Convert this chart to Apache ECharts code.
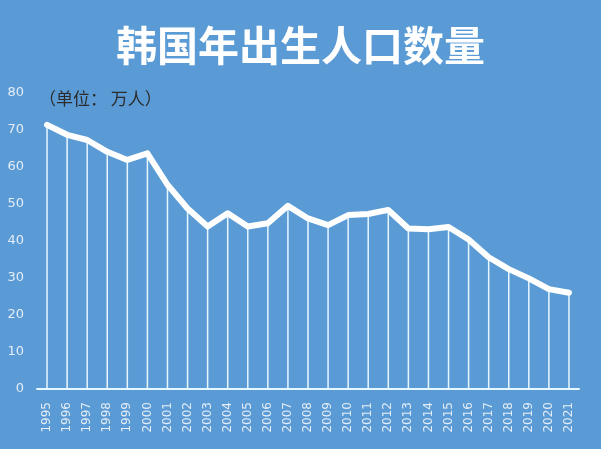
<!DOCTYPE html>
<html>
<head>
<meta charset="utf-8">
<script src="https://cdn.jsdelivr.net/npm/echarts@6/dist/echarts.min.js"></script>
<style>
  html, body { margin: 0; padding: 0; background: #5b9bd5; }
  #main { width: 601px; height: 449px; }
</style>
</head>
<body>
<div id="main"></div>
<script>
const years = ["1995","1996","1997","1998","1999","2000","2001","2002","2003","2004","2005","2006","2007",
  "2008","2009","2010","2011","2012","2013","2014","2015","2016","2017","2018","2019","2020","2021"];
// 出生人口（万人）
const births = [71.4, 68.7, 67.3, 64.1, 61.9, 63.7, 55.2, 48.8, 43.9, 47.5, 43.9, 44.8, 49.5,
  46.1, 44.3, 47.0, 47.3, 48.4, 43.4, 43.2, 43.8, 40.4, 35.6, 32.4, 29.9, 27.0, 26.0];
const yTicks = [0, 80, 10];

const chart = echarts.init(document.getElementById("main"));

const option = {
  backgroundColor: "#5b9bd5",
  animation: false,
  title: [
    {
      text: "韩国年出生人口数量",
      left: "center",
      top: 20,
      textStyle: {
        color: "#ffffff",
        fontSize: 41,
        fontWeight: "bold",
        fontFamily: "Noto Sans CJK SC"
      }
    },
    {
      text: "（单位： 万人）",
      left: 34,
      top: 85,
      textStyle: {
        color: "#2b2b2b",
        fontSize: 17,
        fontWeight: "normal",
        fontFamily: "Noto Sans CJK SC"
      }
    }
  ],
  grid: { left: 37, right: 22, top: 93, bottom: 60 },
  xAxis: {
    type: "category",
    data: years,
    boundaryGap: true,
    axisLine: { lineStyle: { color: "#e6f7ff", width: 2 } },
    axisTick: { show: false },
    axisLabel: {
      rotate: 90,
      margin: 13,
      color: "#e4edf7",
      fontSize: 12,
      fontFamily: "DejaVu Sans",
      interval: 0
    }
  },
  yAxis: {
    type: "value",
    min: yTicks[0],
    max: yTicks[1],
    interval: yTicks[2],
    axisLine: { show: false },
    axisTick: { show: false },
    splitLine: { show: false },
    axisLabel: {
      color: "#e4edf7",
      fontSize: 13,
      margin: 13,
      fontFamily: "DejaVu Sans"
    }
  },
  series: [
    {
      type: "bar",
      data: births,
      barWidth: 1.5,
      itemStyle: { color: "#e6f7ff" },
      z: 1
    },
    {
      type: "line",
      data: births,
      symbol: "none",
      lineStyle: { color: "#ffffff", width: 6, join: "round", cap: "round" },
      z: 3
    }
  ]
};

chart.setOption(option);
</script>
</body>
</html>
